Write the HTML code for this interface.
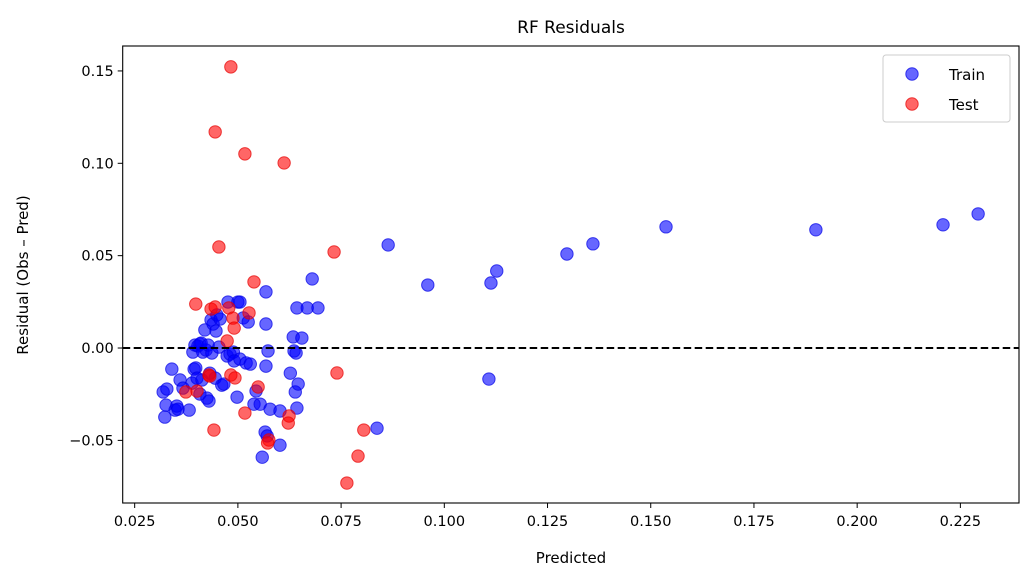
<!DOCTYPE html>
<html><head><meta charset="utf-8"><style>
body{margin:0;background:#fff;}
svg text{font-family:"DejaVu Sans","Liberation Sans",sans-serif;fill:#000;}
</style></head><body>
<svg id="chart" width="1033" height="582" xmlns="http://www.w3.org/2000/svg">
<rect width="1033" height="582" fill="#fff"/>
<g id="marks"></g>
<g id="axes"></g>
</svg>
<script>
const trainX=[0.0319,0.0323,0.0326,0.0328,0.0340,0.0348,0.0352,0.0355,0.0360,0.0367,0.0382,0.0389,0.0391,0.0394,0.0396,0.0398,0.0401,0.0403,0.0408,0.0408,0.0411,0.0413,0.0415,0.0420,0.0423,0.0425,0.0428,0.0430,0.0432,0.0435,0.0437,0.0440,0.0445,0.0447,0.0449,0.0454,0.0457,0.0461,0.0466,0.0474,0.0476,0.0481,0.0489,0.0491,0.0498,0.0500,0.0505,0.0505,0.0513,0.0520,0.0525,0.0530,0.0539,0.0544,0.0554,0.0559,0.0566,0.0568,0.0568,0.0573,0.0568,0.0578,0.0602,0.0602,0.0627,0.0634,0.0636,0.0639,0.0641,0.0643,0.0643,0.0646,0.0668,0.0655,0.0680,0.0694,0.0837,0.0864,0.0960,0.1113,0.1127,0.1297,0.1360,0.1537,0.1900,0.2208,0.2293,0.1108,0.0571];
const trainY=[-0.0238,-0.0374,-0.0309,-0.0222,-0.0114,-0.0336,-0.0314,-0.0331,-0.0173,-0.0217,-0.0336,-0.0190,-0.0022,-0.0114,0.0016,-0.0108,-0.0163,0.0011,0.0022,-0.0249,0.0027,-0.0173,-0.0022,0.0098,-0.0011,-0.0271,0.0016,-0.0287,-0.0136,0.0152,-0.0027,0.0130,-0.0163,0.0092,0.0179,0.0005,0.0157,-0.0201,-0.0195,-0.0043,0.0249,-0.0033,-0.0022,-0.0070,-0.0266,0.0249,0.0249,-0.0060,0.0163,-0.0081,0.0141,-0.0087,-0.0304,-0.0233,-0.0304,-0.0591,-0.0455,0.0304,0.0130,-0.0016,-0.0098,-0.0331,-0.0341,-0.0526,-0.0136,0.0060,-0.0016,-0.0238,-0.0027,-0.0325,0.0217,-0.0195,0.0217,0.0054,0.0374,0.0217,-0.0434,0.0558,0.0341,0.0352,0.0417,0.0509,0.0564,0.0656,0.0640,0.0667,0.0726,-0.0168,-0.0476];
const testX=[0.0483,0.0445,0.0517,0.0612,0.0454,0.0733,0.0539,0.0398,0.0478,0.0435,0.0445,0.0527,0.0488,0.0491,0.0474,0.0401,0.0374,0.0430,0.0483,0.0432,0.0493,0.0549,0.0517,0.0442,0.0575,0.0572,0.0624,0.0622,0.0740,0.0805,0.0791,0.0764];
const testY=[0.1522,0.1170,0.1051,0.1002,0.0547,0.0520,0.0358,0.0238,0.0217,0.0211,0.0222,0.0190,0.0162,0.0108,0.0038,-0.0233,-0.0238,-0.0146,-0.0146,-0.0152,-0.0162,-0.0211,-0.0352,-0.0444,-0.0498,-0.0514,-0.0368,-0.0406,-0.0135,-0.0444,-0.0585,-0.0731];
const xTicks=[0.025,0.050,0.075,0.100,0.125,0.150,0.175,0.200,0.225];
const yTicks=[0.15,0.10,0.05,0.00,-0.05];
const yTickLabels=["0.15","0.10","0.05","0.00","\u22120.05"];

const L=122.7,R=1019,T=46,B=503;
const xMin=0.0221,xMax=0.2392,yMin=-0.0839,yMax=0.1635;
const sx=v=>L+(v-xMin)/(xMax-xMin)*(R-L);
const sy=v=>B-(v-yMin)/(yMax-yMin)*(B-T);
const NS="http://www.w3.org/2000/svg";
function mk(tag,attrs,parent){const e=document.createElementNS(NS,tag);for(const k in attrs)e.setAttribute(k,attrs[k]);parent.appendChild(e);return e;}
const marks=document.getElementById('marks'),axes=document.getElementById('axes');

trainX.forEach((x,i)=>{
  const c=mk('circle',{cx:sx(x),cy:sy(trainY[i]),r:6.2,fill:'rgba(0,0,255,0.6)',stroke:'rgba(0,0,230,0.7)','stroke-width':1},marks);
  
  
});
testX.forEach((x,i)=>{
  const c=mk('circle',{cx:sx(x),cy:sy(testY[i]),r:6.2,fill:'rgba(255,0,0,0.6)',stroke:'rgba(230,0,0,0.7)','stroke-width':1},marks);
  
  
});
const zl=mk('line',{x1:L,x2:R,y1:sy(0),y2:sy(0),stroke:'#000','stroke-width':2,'stroke-dasharray':'7.5,3.5'},marks);



const frame=mk('rect',{x:L,y:T,width:R-L,height:B-T,fill:'none',stroke:'#000','stroke-width':1.1},axes);


xTicks.forEach(v=>{
  const x=sx(v);
  mk('line',{x1:x,x2:x,y1:B,y2:B+5,stroke:'#000','stroke-width':1},axes);
  const t=mk('text',{x:x,y:B+23,'text-anchor':'middle','font-size':14.5},axes);
  t.textContent=v.toFixed(3);
  
  
});
yTicks.forEach((v,i)=>{
  const y=sy(v);
  mk('line',{x1:L-5,x2:L,y1:y,y2:y,stroke:'#000','stroke-width':1},axes);
  const t=mk('text',{x:L-9,y:y+5,'text-anchor':'end','font-size':14.5},axes);
  t.textContent=yTickLabels[i];
  
  
});
</script>
<svg style="position:absolute;left:0;top:0" width="1033" height="582" xmlns="http://www.w3.org/2000/svg">
<text x="571" y="33" text-anchor="middle" font-size="17">RF Residuals</text>
<text x="571" y="563" text-anchor="middle" font-size="15">Predicted</text>
<text transform="translate(28,275) rotate(-90)" text-anchor="middle" font-size="15">Residual (Obs – Pred)</text>
<g>
<rect x="883" y="55" width="127" height="67" rx="3" fill="#fff" fill-opacity="0.8" stroke="#ccc"/>
<circle cx="912" cy="74" r="6.2" fill="rgba(0,0,255,0.6)" stroke="rgba(0,0,230,0.7)"/>
<text x="949" y="80" font-size="15">Train</text>
<circle cx="912" cy="104" r="6.2" fill="rgba(255,0,0,0.6)" stroke="rgba(230,0,0,0.7)"/>
<text x="949" y="110" font-size="15">Test</text>
</g>
</svg>
</body></html>
